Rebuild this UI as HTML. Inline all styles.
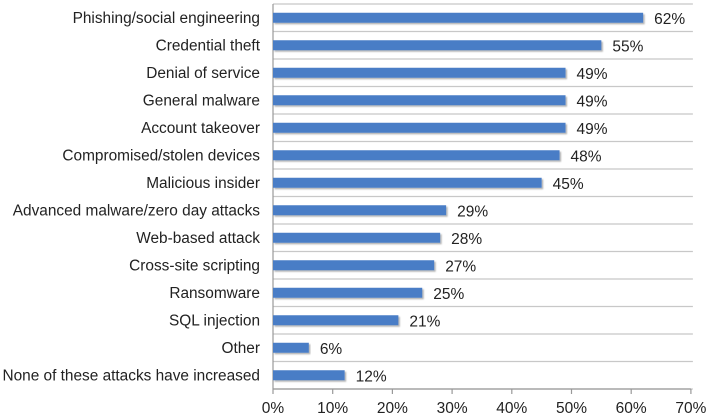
<!DOCTYPE html>
<html><head><meta charset="utf-8"><style>
body{margin:0;background:#fff;}
svg text{font-family:"Liberation Sans",Arial,sans-serif;fill:#222;}
</style></head><body>
<svg id="chart" width="709" height="414"></svg>
<script>
const categories=["Phishing/social engineering","Credential theft","Denial of service","General malware","Account takeover","Compromised/stolen devices","Malicious insider","Advanced malware/zero day attacks","Web-based attack","Cross-site scripting","Ransomware","SQL injection","Other","None of these attacks have increased"];
const values=[62,55,49,49,49,48,45,29,28,27,25,21,6,12];
const ticks=[0,10,20,30,40,50,60,70];
const NS="http://www.w3.org/2000/svg";
const svg=document.getElementById('chart');
const x0=273,pxPer=5.97,plotTop=4,band=27.5;
const xs=v=>x0+v*pxPer;
const yc=i=>plotTop+band*i+band/2;
function mk(t,a,txt){const e=document.createElementNS(NS,t);for(const k in a)e.setAttribute(k,a[k]);if(txt!==undefined)e.textContent=txt;svg.appendChild(e);return e;}
const defs=mk('defs',{});
defs.innerHTML='<filter id="sh" x="-5%" y="-50%" width="110%" height="200%"><feDropShadow dx="1.5" dy="1.5" stdDeviation="0.8" flood-color="#000" flood-opacity="0.3"/></filter>';
for(let i=0;i<=categories.length;i++){
  const g=mk('line',{x1:x0,x2:xs(70)+2,y1:plotTop+band*i,y2:plotTop+band*i,stroke:'#c8c8c8','stroke-width':1.2});
  
  
}
const ya=mk('line',{x1:x0,x2:x0,y1:plotTop,y2:plotTop+band*categories.length,stroke:'#999','stroke-width':1.2});


const by=plotTop+band*categories.length;
const xa=mk('line',{x1:x0,x2:xs(70),y1:by,y2:by,stroke:'#999','stroke-width':1.2});


ticks.forEach(t=>{
  const tm=mk('line',{x1:xs(t),x2:xs(t),y1:by,y2:by+5,stroke:'#999','stroke-width':1.2});
  
  
  const tl=mk('text',{x:xs(t),y:by+24,'text-anchor':'middle','font-size':15.5},t+'%');
  
  
});
categories.forEach((c,i)=>{
  const l=mk('text',{x:260,y:yc(i)+5,'text-anchor':'end','font-size':15.4},c);
  
  
  const b=mk('rect',{x:x0,y:yc(i)-5,width:xs(values[i])-x0,height:10,fill:'#4a7dc6',filter:'url(#sh)'});
  
  
  const v=mk('text',{x:xs(values[i])+11,y:yc(i)+6,'font-size':15.5},values[i]+'%');
  
  
});
</script>
</body></html>
